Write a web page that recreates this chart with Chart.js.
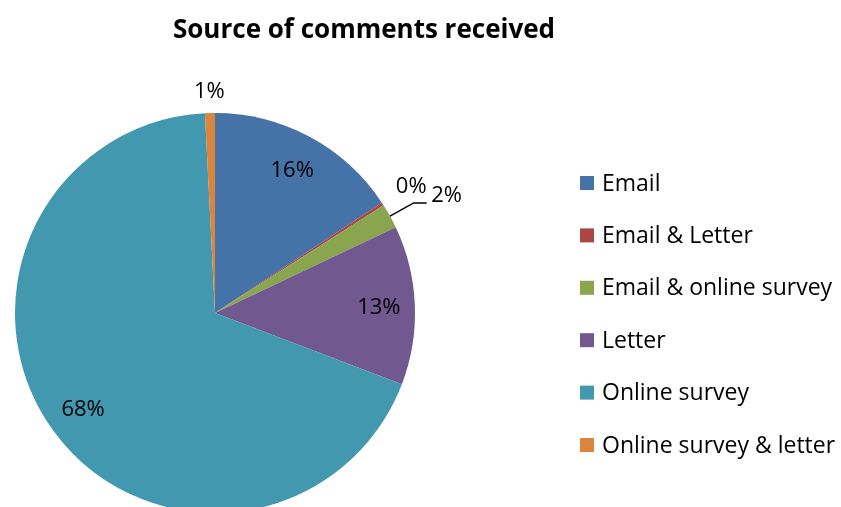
<!DOCTYPE html>
<html>
<head>
<meta charset="utf-8">
<script src="https://cdn.jsdelivr.net/npm/chart.js@4"></script>
<style>
  html, body { margin: 0; padding: 0; background: #fff; overflow: hidden; }
  #wrap { width: 841px; height: 520px; position: relative; }
</style>
</head>
<body>
<div id="wrap"><canvas id="pie" width="841" height="520"></canvas></div>
<script>
const chartTitle = "Source of comments received";
const categories = ["Email", "Email & Letter", "Email & online survey", "Letter", "Online survey", "Online survey & letter"];
const shares = [15.7, 0.25, 2.0, 12.85, 68.4, 0.8];
const sliceColors = ["#4572A7", "#AA4643", "#89A54E", "#71588F", "#4198AF", "#DB843D"];

const FONT = "'Open Sans', 'Liberation Sans', sans-serif";

// label placement: radial factor, and an optional leader line for the 2% one
const labelPlacement = {
  0: { r: 0.815 },
  1: { r: 1.17, angle: -33 },
  2: { r: 1.3, angle: -27, leader: true },
  3: { r: 0.82 },
  4: { r: 0.815 },
  5: { r: 1.11 }
};

const extras = {
  id: "extras",
  afterDraw(chart) {
    const ctx = chart.ctx;
    const meta = chart.getDatasetMeta(0);
    const total = shares.reduce((a, b) => a + b, 0);

    // title
    ctx.save();
    ctx.fillStyle = "#000";
    ctx.font = "bold 26px " + FONT;
    ctx.textAlign = "center";
    ctx.textBaseline = "middle";
    ctx.fillText(chartTitle, 364, 31);

    // data labels
    ctx.font = "22px " + FONT;
    meta.data.forEach((arc, i) => {
      const p = arc.getProps(["x", "y", "startAngle", "endAngle", "outerRadius"], true);
      const pl = labelPlacement[i] || { r: 0.8 };
      let mid = (p.startAngle + p.endAngle) / 2;
      if (pl.angle !== undefined) mid = pl.angle * Math.PI / 180;
      const tx = p.x + Math.cos(mid) * p.outerRadius * pl.r;
      const ty = p.y + Math.sin(mid) * p.outerRadius * pl.r;
      const txt = Math.round(shares[i] / total * 100) + "%";
      if (pl.leader) {
        const a = (p.startAngle + p.endAngle) / 2;
        const sx = p.x + Math.cos(a) * p.outerRadius;
        const sy = p.y + Math.sin(a) * p.outerRadius;
        ctx.strokeStyle = "#000";
        ctx.lineWidth = 1.5;
        ctx.beginPath();
        ctx.moveTo(sx, sy);
        ctx.lineTo(tx - 33, ty + 8);
        ctx.lineTo(tx - 20, ty + 8);
        ctx.stroke();
      }
      ctx.fillStyle = "#000";
      ctx.textAlign = "center";
      ctx.textBaseline = "middle";
      ctx.fillText(txt, tx, ty + 1);
    });

    // legend
    ctx.font = "23px " + FONT;
    ctx.textAlign = "left";
    ctx.textBaseline = "middle";
    categories.forEach((c, i) => {
      const y = 183 + i * 52.4;
      ctx.fillStyle = sliceColors[i];
      ctx.fillRect(580, y - 7, 14, 14);
      ctx.fillStyle = "#000";
      ctx.fillText(c, 602, y + 1);
    });
    ctx.restore();
  }
};

new Chart(document.getElementById("pie"), {
  type: "pie",
  data: {
    labels: categories,
    datasets: [{
      data: shares,
      backgroundColor: sliceColors,
      borderWidth: 0
    }]
  },
  options: {
    responsive: false,
    animation: false,
    layout: { padding: { left: 14, top: 113, right: 425, bottom: 7 } },
    plugins: {
      legend: { display: false },
      title: { display: false },
      tooltip: { enabled: false }
    }
  },
  plugins: [extras]
});
</script>
</body>
</html>
